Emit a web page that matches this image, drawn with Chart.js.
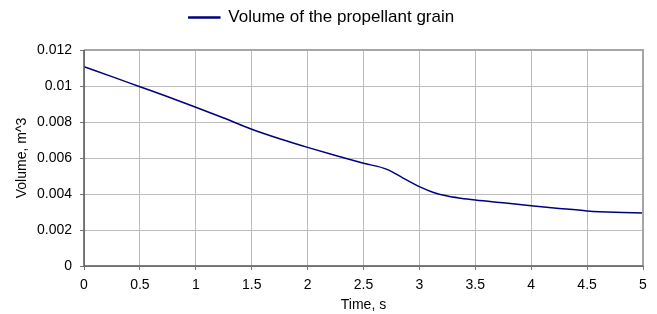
<!DOCTYPE html>
<html>
<head>
<meta charset="utf-8">
<script src="https://cdn.jsdelivr.net/npm/chart.js@4.4.1/dist/chart.umd.min.js"></script>
<style>
  html, body { margin: 0; padding: 0; background: #ffffff; }
  #wrap { width: 657px; height: 314px; position: relative; }
</style>
</head>
<body>
<div id="wrap"><canvas id="c" width="657" height="314"></canvas></div>
<script>
const seriesName = "Volume of the propellant grain";
const timeValues = [0, 0.25, 0.5, 0.75, 1, 1.25, 1.5, 1.75, 2, 2.25, 2.5, 2.71, 2.85, 3, 3.12, 3.25, 3.37, 3.5, 3.75, 4, 4.25, 4.5, 4.75, 5];
const volumeValues = [0.01107, 0.01052, 0.00996, 0.00940, 0.00882, 0.00822, 0.00760, 0.00707, 0.00659, 0.00614, 0.00571, 0.00537, 0.00490, 0.00441, 0.00410, 0.00389, 0.00377, 0.00367, 0.00351, 0.00335, 0.00320, 0.00306, 0.00298, 0.00294];
const xTickLabels = ["0", "0.5", "1", "1.5", "2", "2.5", "3", "3.5", "4", "4.5", "5"];
const yTickLabels = ["0", "0.002", "0.004", "0.006", "0.008", "0.01", "0.012"];
const xTitle = "Time, s";
const yTitle = "Volume, m^3";

const points = timeValues.map((t, i) => ({ x: t, y: volumeValues[i] }));
const FONT = "'Liberation Sans', Arial, sans-serif";

const frame = {
  id: 'frame',
  afterDatasetsDraw(chart) {
    const a = chart.chartArea, ctx = chart.ctx;
    ctx.save();
    ctx.strokeStyle = '#a6a6a6';
    ctx.lineWidth = 2;
    ctx.beginPath();
    ctx.moveTo(a.left, a.top); ctx.lineTo(a.right, a.top); ctx.lineTo(a.right, a.bottom);
    ctx.stroke();
    ctx.strokeStyle = '#555555';
    ctx.lineWidth = 1.5;
    ctx.beginPath();
    ctx.moveTo(a.left, a.top); ctx.lineTo(a.left, a.bottom); ctx.lineTo(a.right, a.bottom);
    ctx.stroke();
    ctx.restore();
  }
};

const legendFix = {
  id: 'legendFix',
  beforeInit(chart) {
    const orig = chart.legend.fit;
    chart.legend.fit = function () { orig.call(this); this.height = 50; };
  }
};

new Chart(document.getElementById('c'), {
  type: 'line',
  data: {
    datasets: [{
      label: seriesName,
      data: points,
      borderColor: '#00007f',
      backgroundColor: '#3a3a9a',
      borderWidth: 1.5,
      pointRadius: 0,
      tension: 0.3,
      cubicInterpolationMode: 'monotone',
      fill: false
    }]
  },
  options: {
    responsive: false,
    animation: false,
    devicePixelRatio: 1,
    layout: { padding: { left: 0, right: 14, top: 0, bottom: 0 } },
    plugins: {
      legend: {
        display: true,
        position: 'top',
        labels: {
          color: '#000000',
          font: { family: FONT, size: 17 },
          boxWidth: 31,
          boxHeight: 1,
          padding: 9
        }
      },
      tooltip: { enabled: false }
    },
    scales: {
      x: {
        type: 'linear',
        min: 0, max: 5,
        afterFit(s) { s.height = 48; },
        ticks: {
          stepSize: 0.5,
          color: '#000000',
          font: { family: FONT, size: 14 },
          padding: 7,
          maxRotation: 0,
          callback: (v) => { const i = Math.round(v / 0.5); return xTickLabels[i] ?? ''; }
        },
        grid: { color: '#bdbdbd', lineWidth: 1, tickLength: 4, tickColor: '#777777' },
        border: { display: false },
        title: { display: true, text: xTitle, color: '#000000', font: { family: FONT, size: 14 }, padding: { top: 0, bottom: 0 } }
      },
      y: {
        min: 0, max: 0.012,
        afterFit(s) { s.width = 84; },
        ticks: {
          stepSize: 0.002,
          color: '#000000',
          font: { family: FONT, size: 14 },
          padding: 8,
          callback: (v) => { const i = Math.round(v / 0.002); return yTickLabels[i] ?? ''; }
        },
        grid: { color: '#bdbdbd', lineWidth: 1, tickLength: 4, tickColor: '#777777' },
        border: { display: false },
        title: { display: true, text: yTitle, color: '#000000', font: { family: FONT, size: 14 }, padding: { top: 14, bottom: 0 } }
      }
    }
  },
  plugins: [legendFix, frame]
});
</script>
</body>
</html>
